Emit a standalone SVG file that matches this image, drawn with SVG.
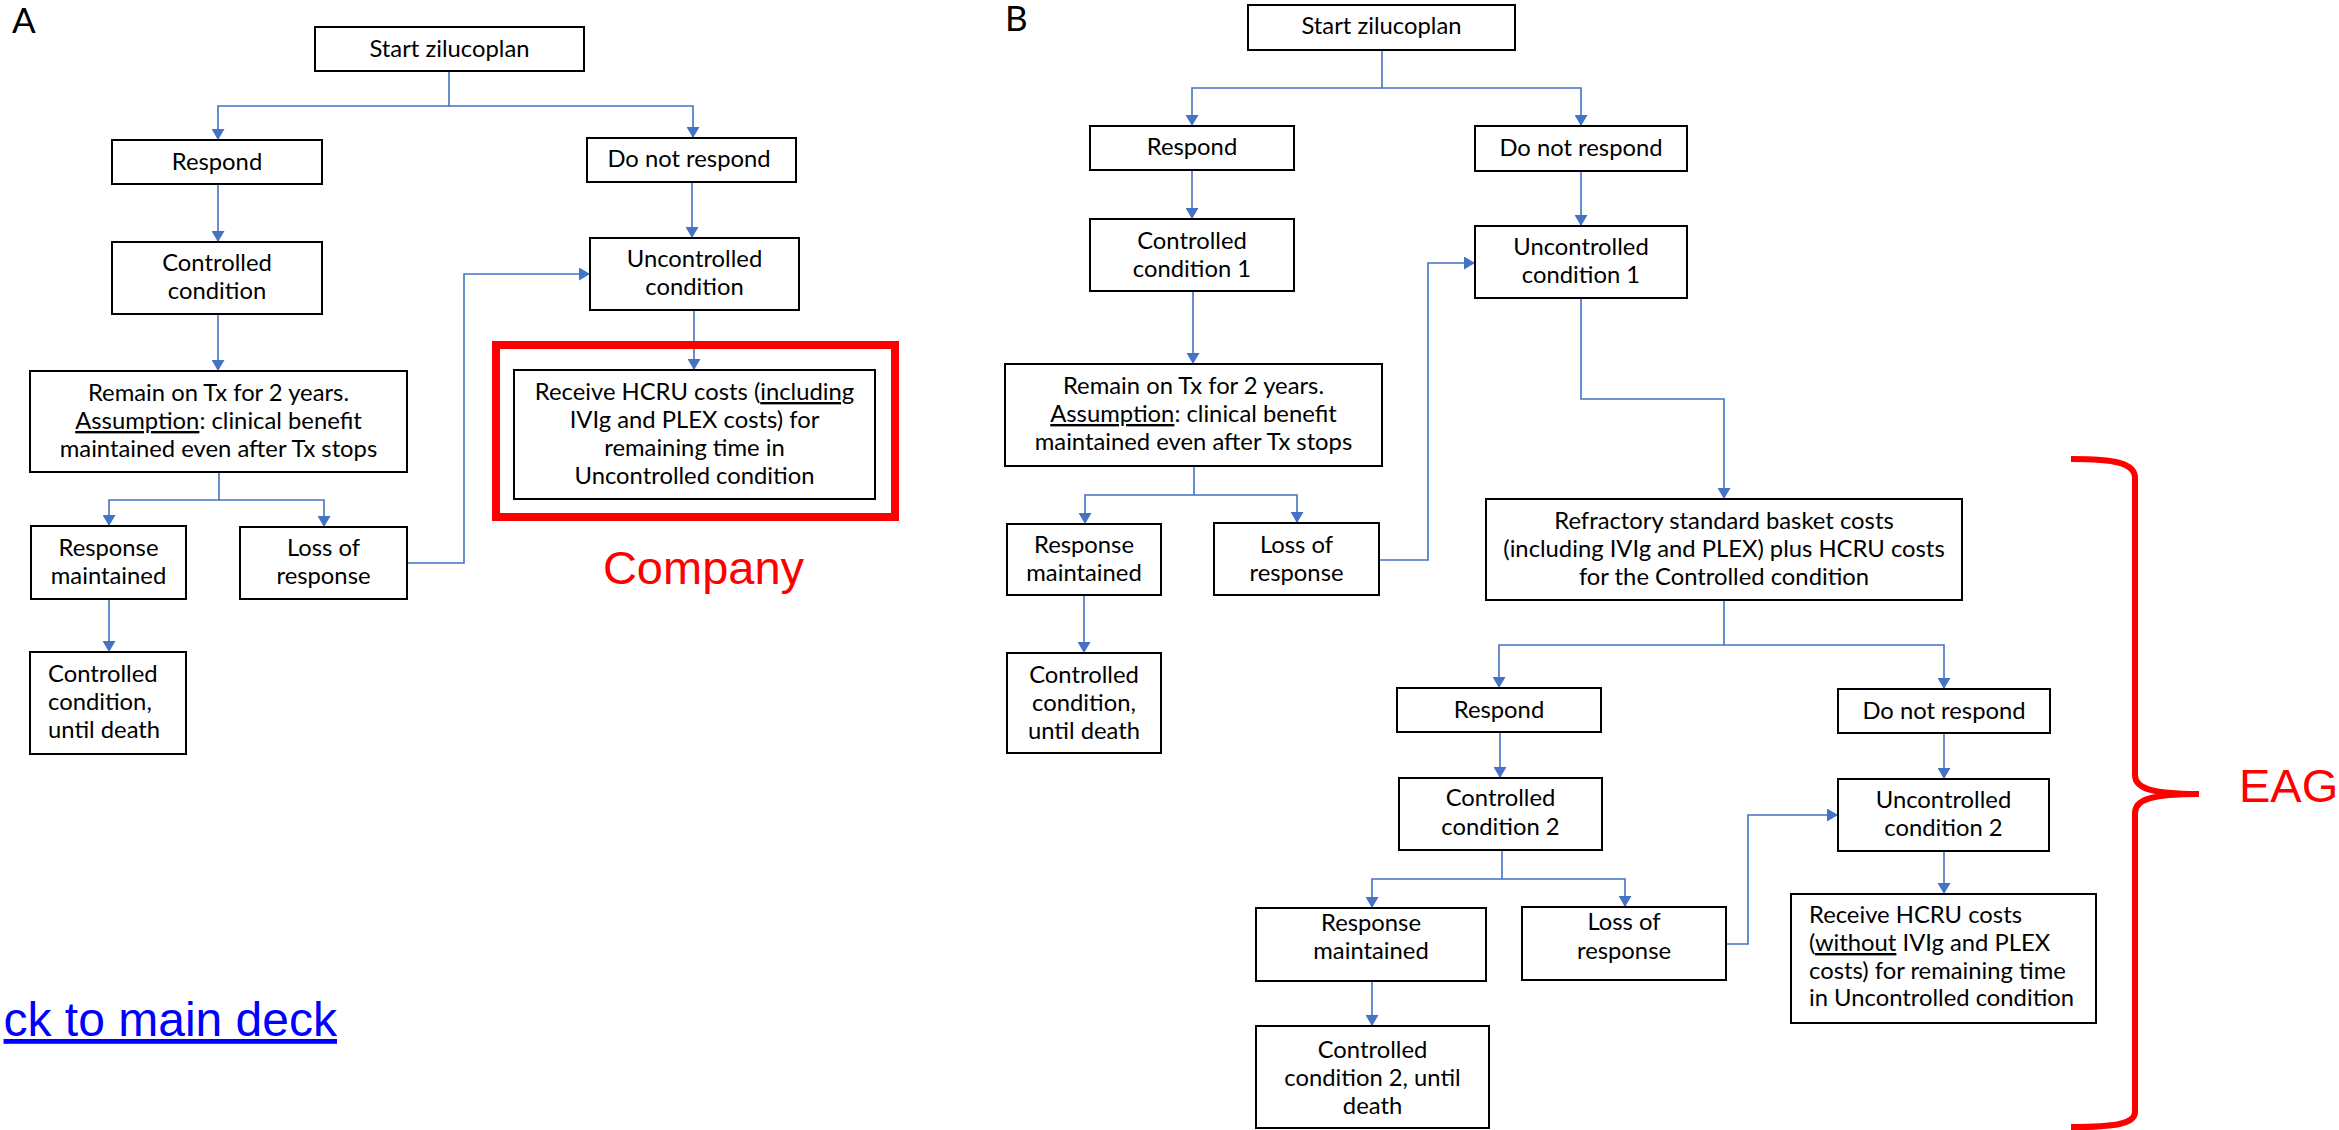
<svg xmlns="http://www.w3.org/2000/svg" width="2339" height="1130" viewBox="0 0 2339 1130">
<style>
.node rect{fill:#fff;stroke:#000;stroke-width:2}
.t{font-family:Lato,"Liberation Sans",sans-serif;font-size:23.8px;fill:#000;text-anchor:middle}
.l{text-anchor:start}
.u{text-decoration:underline}
.conn path{fill:none;stroke:#4472C4;stroke-width:1.6}
.conn path.a{marker-end:url(#ah)}
.lab{font-family:Lato,"Liberation Sans",sans-serif;font-size:35px;fill:#000}
.red{font-family:"Liberation Sans",Arial,sans-serif;font-size:47px;fill:#FF0000}
</style>
<defs>
<marker id="ah" markerUnits="userSpaceOnUse" markerWidth="12" markerHeight="13" refX="11" refY="6.5" orient="auto">
<path d="M0,0 L11,6.5 L0,13 z" fill="#4472C4"/>
</marker>
</defs>
<rect x="0" y="0" width="2339" height="1130" fill="#fff"/>

<text class="lab" x="12" y="33">A</text>
<text class="lab" x="1005" y="31" font-size="32">B</text>

<g class="conn" id="connectors">
<!-- Panel A -->
<path class="a" d="M449,71 V106 H218 V140"/>
<path class="a" d="M449,106 H693 V138"/>
<path class="a" d="M218,184 V242"/>
<path class="a" d="M692,182 V238"/>
<path class="a" d="M218,314 V371"/>
<path class="a" d="M694,310 V370"/>
<path class="a" d="M219,472 V500 H109 V526"/>
<path class="a" d="M219,500 H324 V527"/>
<path class="a" d="M407,563 H464 V274 H590"/>
<path class="a" d="M109,599 V652"/>
<!-- Panel B -->
<path class="a" d="M1382,50 V88 H1192 V126"/>
<path class="a" d="M1382,88 H1581 V126"/>
<path class="a" d="M1192,170 V219"/>
<path class="a" d="M1581,171 V226"/>
<path class="a" d="M1193,291 V364"/>
<path class="a" d="M1194,466 V495 H1085 V524"/>
<path class="a" d="M1194,495 H1297 V523"/>
<path class="a" d="M1379,560 H1428 V263 H1475"/>
<path class="a" d="M1084,595 V653"/>
<path class="a" d="M1581,298 V399 H1724 V499"/>
<path class="a" d="M1724,600 V645 H1499 V688"/>
<path class="a" d="M1724,645 H1944 V689"/>
<path class="a" d="M1500,732 V778"/>
<path class="a" d="M1944,733 V779"/>
<path class="a" d="M1502,850 V879 H1372 V908"/>
<path class="a" d="M1502,879 H1625 V907"/>
<path class="a" d="M1726,944 H1748 V815 H1838"/>
<path class="a" d="M1944,851 V894"/>
<path class="a" d="M1372,981 V1026"/>
</g>

<!-- Panel A nodes -->
<g class="node" id="a-start"><rect x="315" y="27" width="269" height="44"/><text class="t" x="449.5" y="57">Start zilucoplan</text></g>
<g class="node" id="a-respond"><rect x="112" y="140" width="210" height="44"/><text class="t" x="217" y="170">Respond</text></g>
<g class="node" id="a-norespond"><rect x="587" y="138" width="209" height="44"/><text class="t" x="689" y="167">Do not respond</text></g>
<g class="node" id="a-controlled"><rect x="112" y="242" width="210" height="72"/><text class="t" x="217"><tspan x="217" y="271">Controlled</tspan><tspan x="217" y="299">condition</tspan></text></g>
<g class="node" id="a-uncontrolled"><rect x="590" y="238" width="209" height="72"/><text class="t"><tspan x="694.5" y="267">Uncontrolled</tspan><tspan x="694.5" y="295">condition</tspan></text></g>
<g class="node" id="a-remain"><rect x="30" y="371" width="377" height="101"/><text class="t"><tspan x="218.5" y="401">Remain on Tx for 2 years.</tspan><tspan x="218.5" y="429"><tspan class="u">Assumption</tspan>: clinical benefit</tspan><tspan x="218.5" y="457">maintained even after Tx stops</tspan></text></g>
<g id="a-company-box"><rect x="496" y="345" width="399" height="172" fill="none" stroke="#FF0000" stroke-width="8"/></g>
<g class="node" id="a-hcru"><rect x="514" y="370" width="361" height="129"/><text class="t"><tspan x="694.5" y="400">Receive HCRU costs (<tspan class="u">including</tspan></tspan><tspan x="694.5" y="428">IVIg and PLEX costs) for</tspan><tspan x="694.5" y="456">remaining time in</tspan><tspan x="694.5" y="484">Uncontrolled condition</tspan></text></g>
<g class="node" id="a-maintained"><rect x="31" y="526" width="155" height="73"/><text class="t"><tspan x="108.5" y="556">Response</tspan><tspan x="108.5" y="584">maintained</tspan></text></g>
<g class="node" id="a-loss"><rect x="240" y="527" width="167" height="72"/><text class="t"><tspan x="323.5" y="556">Loss of</tspan><tspan x="323.5" y="584">response</tspan></text></g>
<g class="node" id="a-death"><rect x="30" y="652" width="156" height="102"/><text class="t l"><tspan x="48" y="682">Controlled</tspan><tspan x="48" y="710">condition,</tspan><tspan x="48" y="738">until death</tspan></text></g>
<text class="red" x="703.5" y="584" text-anchor="middle">Company</text>
<text x="337" y="1036" text-anchor="end" font-family="Liberation Sans,Arial,sans-serif" font-size="48" fill="#0000FF" text-decoration="underline">ck to main deck</text>

<!-- Panel B nodes -->
<g class="node" id="b-start"><rect x="1248" y="5" width="267" height="45"/><text class="t" x="1381.5" y="34">Start zilucoplan</text></g>
<g class="node" id="b-respond"><rect x="1090" y="126" width="204" height="44"/><text class="t" x="1192" y="155">Respond</text></g>
<g class="node" id="b-norespond"><rect x="1475" y="126" width="212" height="45"/><text class="t" x="1581" y="156">Do not respond</text></g>
<g class="node" id="b-controlled1"><rect x="1090" y="219" width="204" height="72"/><text class="t"><tspan x="1192" y="249">Controlled</tspan><tspan x="1192" y="277">condition 1</tspan></text></g>
<g class="node" id="b-uncontrolled1"><rect x="1475" y="226" width="212" height="72"/><text class="t"><tspan x="1581" y="255">Uncontrolled</tspan><tspan x="1581" y="283">condition 1</tspan></text></g>
<g class="node" id="b-remain"><rect x="1005" y="364" width="377" height="102"/><text class="t"><tspan x="1193.5" y="394">Remain on Tx for 2 years.</tspan><tspan x="1193.5" y="422"><tspan class="u">Assumption</tspan>: clinical benefit</tspan><tspan x="1193.5" y="450">maintained even after Tx stops</tspan></text></g>
<g class="node" id="b-maintained"><rect x="1007" y="524" width="154" height="71"/><text class="t"><tspan x="1084" y="553">Response</tspan><tspan x="1084" y="581">maintained</tspan></text></g>
<g class="node" id="b-loss"><rect x="1214" y="523" width="165" height="72"/><text class="t"><tspan x="1296.5" y="553">Loss of</tspan><tspan x="1296.5" y="581">response</tspan></text></g>
<g class="node" id="b-death"><rect x="1007" y="653" width="154" height="100"/><text class="t"><tspan x="1084" y="683">Controlled</tspan><tspan x="1084" y="711">condition,</tspan><tspan x="1084" y="739">until death</tspan></text></g>
<g class="node" id="b-refractory"><rect x="1486" y="499" width="476" height="101"/><text class="t"><tspan x="1724" y="529">Refractory standard basket costs</tspan><tspan x="1724" y="557">(including IVIg and PLEX) plus HCRU costs</tspan><tspan x="1724" y="585">for the Controlled condition</tspan></text></g>
<g class="node" id="b-respond2"><rect x="1397" y="688" width="204" height="44"/><text class="t" x="1499" y="718">Respond</text></g>
<g class="node" id="b-norespond2"><rect x="1838" y="689" width="212" height="44"/><text class="t" x="1944" y="719">Do not respond</text></g>
<g class="node" id="b-controlled2"><rect x="1399" y="778" width="203" height="72"/><text class="t"><tspan x="1500.5" y="806">Controlled</tspan><tspan x="1500.5" y="835">condition 2</tspan></text></g>
<g class="node" id="b-uncontrolled2"><rect x="1838" y="779" width="211" height="72"/><text class="t"><tspan x="1943.5" y="808">Uncontrolled</tspan><tspan x="1943.5" y="836">condition 2</tspan></text></g>
<g class="node" id="b-maintained2"><rect x="1256" y="908" width="230" height="73"/><text class="t"><tspan x="1371" y="931">Response</tspan><tspan x="1371" y="959">maintained</tspan></text></g>
<g class="node" id="b-loss2"><rect x="1522" y="907" width="204" height="73"/><text class="t"><tspan x="1624" y="930">Loss of</tspan><tspan x="1624" y="959">response</tspan></text></g>
<g class="node" id="b-hcru2"><rect x="1791" y="894" width="305" height="129"/><text class="t l"><tspan x="1809" y="923">Receive HCRU costs</tspan><tspan x="1809" y="951">(<tspan class="u">without</tspan> IVIg and PLEX</tspan><tspan x="1809" y="979">costs) for remaining time</tspan><tspan x="1809" y="1006">in Uncontrolled condition</tspan></text></g>
<g class="node" id="b-death2"><rect x="1256" y="1026" width="233" height="102"/><text class="t"><tspan x="1372.5" y="1058">Controlled</tspan><tspan x="1372.5" y="1086">condition 2, until</tspan><tspan x="1372.5" y="1114">death</tspan></text></g>

<g id="eag-brace"><path d="M2071,459 C2115,459 2135,463 2135,478 L2135,775 C2135,788 2150,794 2199,794 C2150,794 2135,800 2135,813 L2135,1112 C2135,1124 2115,1127 2071,1127" fill="none" stroke="#FF0000" stroke-width="6"/></g>
<text class="red" x="2239" y="802" font-size="46">EAG</text>
</svg>
